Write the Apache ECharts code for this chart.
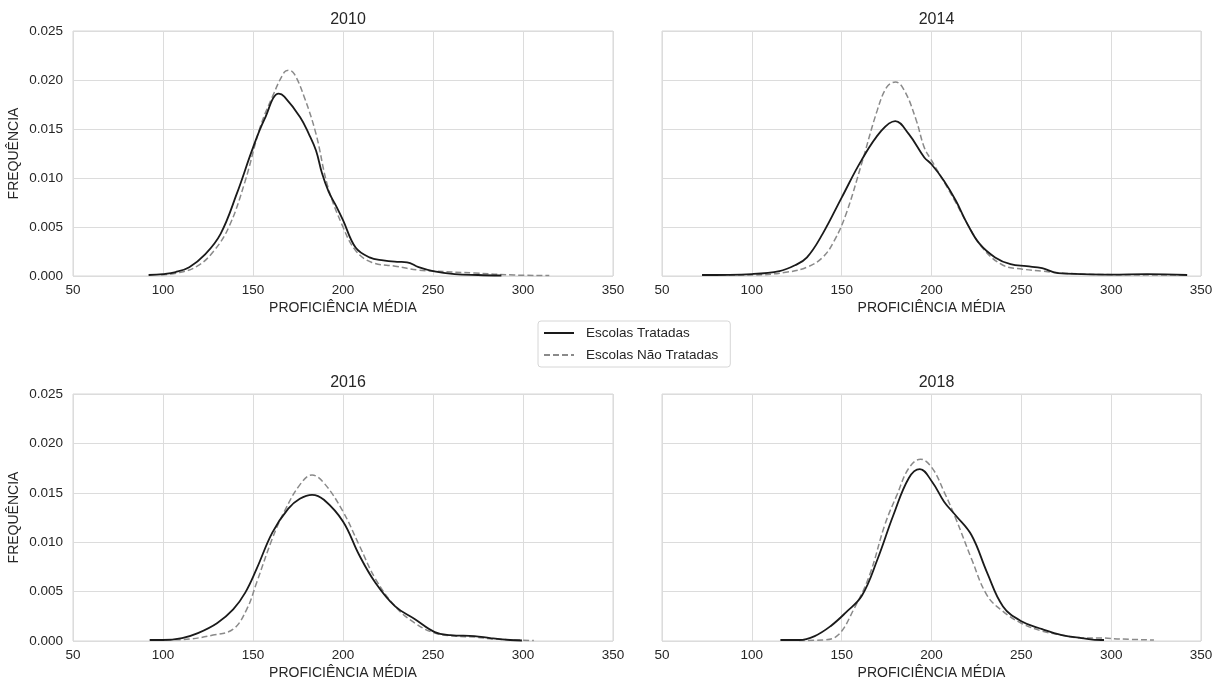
<!DOCTYPE html>
<html>
<head>
<meta charset="utf-8">
<script src="https://cdn.jsdelivr.net/npm/echarts@6/dist/echarts.min.js"></script>
<style>
  html, body { margin: 0; padding: 0; background: #fff; }
  #chart { width: 1224px; height: 686px; }
</style>
</head>
<body>
<div id="chart"></div>
<script>
// panel titles
const years = ['2010', '2014', '2016', '2018'];
const xTicks = [50, 100, 150, 200, 250, 300, 350];
const yTicks = [0, 0.005, 0.01, 0.015, 0.02, 0.025];

// density curves: [proficiencia, frequencia]
const trat2010 = [[92, 0.0001], [100, 0.0002], [107, 0.0004], [114.6, 0.0009], [123.4, 0.0022], [132, 0.0043], [141, 0.0084], [150, 0.0131], [156.4, 0.0160], [164.3, 0.0186], [167.4, 0.0183], [176.2, 0.0162], [181, 0.0145], [185, 0.0128], [188.3, 0.0105], [192, 0.0086], [196, 0.0072], [200, 0.0057], [207, 0.0029], [214.7, 0.0019], [222.4, 0.0016], [230, 0.00145], [235.6, 0.0014], [242, 0.0009], [250, 0.0005], [262, 0.0002], [275, 0.0001], [288, 0.00005]];
const nao2010 = [[99, 0.0001], [108, 0.0003], [119, 0.0010], [128, 0.0025], [136.6, 0.0050], [145.5, 0.0096], [154, 0.0152], [160.8, 0.0183], [167.4, 0.0208], [170, 0.0210], [173, 0.0206], [178.4, 0.0183], [185, 0.0145], [191.6, 0.0091], [200, 0.0050], [207, 0.0026], [215.8, 0.0014], [229, 0.0010], [242, 0.0006], [251, 0.0005], [273, 0.0003], [295, 0.0001], [314.6, 0.00005]];

const trat2014 = [[72.3, 0.0001], [100, 0.0002], [115.4, 0.0005], [124, 0.0011], [130.7, 0.0019], [139.4, 0.0043], [150, 0.0080], [161, 0.0118], [172, 0.0148], [179.8, 0.0158], [187.3, 0.0145], [196, 0.0121], [200, 0.0114], [207, 0.0097], [213.5, 0.0077], [220, 0.0053], [226.7, 0.0033], [235.4, 0.0019], [244, 0.0012], [252.9, 0.0010], [261.6, 0.0008], [270.4, 0.0003], [283.4, 0.0002], [300, 0.00015], [320, 0.0002], [342.3, 0.0001]];
const nao2014 = [[72.3, 0.0001], [100, 0.0001], [119.8, 0.0004], [130.7, 0.0009], [139.4, 0.0019], [145.9, 0.0036], [152.4, 0.0063], [161, 0.0114], [169.8, 0.0169], [175.2, 0.0193], [180, 0.0198], [185, 0.0189], [191.5, 0.0159], [196, 0.0131], [200, 0.0118], [207, 0.0096], [213.5, 0.0075], [220, 0.0053], [228.7, 0.0028], [239.8, 0.0011], [250.7, 0.0007], [261.6, 0.0005], [272.5, 0.0003], [294.3, 0.00015], [342.3, 0.0001]];

const trat2016 = [[92.6, 0.0001], [100, 0.0001], [110.6, 0.0003], [119.4, 0.0008], [130, 0.0018], [139, 0.0032], [145.7, 0.0049], [152, 0.0073], [160.8, 0.0110], [169.6, 0.0134], [176, 0.0144], [182.8, 0.0148], [189.4, 0.0143], [200, 0.0121], [209, 0.0087], [218, 0.0059], [229, 0.0035], [240, 0.0022], [251, 0.0009], [259.7, 0.0006], [273, 0.0005], [281.8, 0.0003], [292.8, 0.0001], [299.4, 0.00005]];
const nao2016 = [[101.5, 0.0001], [114.6, 0.0002], [127.8, 0.0006], [139, 0.0012], [146.5, 0.0032], [152, 0.0059], [160.8, 0.0104], [167.4, 0.0131], [176, 0.0158], [182.8, 0.0168], [189.4, 0.0160], [200, 0.0131], [209, 0.0097], [218, 0.0063], [229, 0.0035], [240, 0.0018], [251, 0.0008], [262, 0.0005], [273, 0.0004], [284, 0.0002], [306, 0.00005]];

const trat2018 = [[115.9, 0.0001], [126.3, 0.0001], [135, 0.0005], [143.8, 0.0015], [152.4, 0.0029], [161.3, 0.0046], [170, 0.0083], [178.7, 0.0127], [187.4, 0.0165], [193.5, 0.0174], [200.4, 0.0161], [207, 0.0141], [213.5, 0.0127], [222.3, 0.0107], [231, 0.0069], [239.8, 0.0035], [250, 0.0020], [261.6, 0.0012], [272.5, 0.0006], [283.4, 0.0003], [294.3, 0.0001], [296, 0.0001]];
const nao2018 = [[126.3, 0.00005], [139.4, 0.0001], [148, 0.0006], [156.7, 0.0032], [165.4, 0.0066], [174.1, 0.0118], [180.8, 0.0148], [187.4, 0.0175], [193.9, 0.0184], [200.4, 0.0175], [207, 0.0151], [213.5, 0.0124], [222.3, 0.0083], [231, 0.0046], [239.8, 0.0030], [250, 0.0018], [261.6, 0.0010], [272.5, 0.0006], [283.4, 0.0003], [294.3, 0.0003], [305, 0.0002], [323.8, 0.0001]];

const tratadas = [trat2010, trat2014, trat2016, trat2018];
const naoTratadas = [nao2010, nao2014, nao2016, nao2018];

const font = '"Liberation Sans", Arial, sans-serif';
const textColor = '#262626';

const grids = [
    {left: 73, top: 31, width: 540, height: 245},
    {left: 662, top: 31, width: 539, height: 245},
    {left: 73, top: 394, width: 540, height: 247},
    {left: 662, top: 394, width: 539, height: 247}
];

let titles = [], xAxes = [], yAxes = [], series = [];

grids.forEach((g, i) => {
    g.show = true;
    g.borderColor = '#d6d6d6';
    g.borderWidth = 1;
    g.containLabel = false;

    titles.push({
        text: years[i],
        left: g.left + g.width / 2,
        top: g.top - 24,
        textAlign: 'center',
        textStyle: {fontFamily: font, fontSize: 16, fontWeight: 'normal', color: textColor}
    });

    xAxes.push({
        type: 'value',
        gridIndex: i,
        min: xTicks[0],
        max: xTicks[xTicks.length - 1],
        interval: 50,
        name: 'PROFICIÊNCIA MÉDIA',
        nameLocation: 'middle',
        nameGap: 25,
        nameTextStyle: {fontFamily: font, fontSize: 14, color: textColor},
        axisLine: {show: false},
        axisTick: {show: false},
        axisLabel: {fontFamily: font, fontSize: 13.5, color: textColor, margin: 7},
        splitLine: {show: true, lineStyle: {color: '#dcdcdc', width: 1}}
    });

    const left = i % 2 === 0;
    yAxes.push({
        type: 'value',
        gridIndex: i,
        min: yTicks[0],
        max: yTicks[yTicks.length - 1],
        interval: 0.005,
        name: left ? 'FREQUÊNCIA' : '',
        nameLocation: 'middle',
        nameRotate: 90,
        nameGap: 52,
        nameTextStyle: {fontFamily: font, fontSize: 14, color: textColor},
        axisLine: {show: false},
        axisTick: {show: false},
        axisLabel: {
            show: left,
            fontFamily: font, fontSize: 13.5, color: textColor, margin: 10,
            formatter: v => v.toFixed(3)
        },
        splitLine: {show: true, lineStyle: {color: '#dcdcdc', width: 1}}
    });

    series.push({
        name: 'Escolas Tratadas',
        type: 'line',
        xAxisIndex: i,
        yAxisIndex: i,
        data: tratadas[i],
        smooth: 0.4,
        showSymbol: false,
        symbol: 'none',
        lineStyle: {color: '#1a1a1a', width: 1.8},
        itemStyle: {color: '#1a1a1a'},
        z: 3
    });
    series.push({
        name: 'Escolas Não Tratadas',
        type: 'line',
        xAxisIndex: i,
        yAxisIndex: i,
        data: naoTratadas[i],
        smooth: 0.4,
        showSymbol: false,
        symbol: 'none',
        lineStyle: {color: '#8a8a8a', width: 1.5, type: [6, 3]},
        itemStyle: {color: '#8a8a8a'},
        z: 2
    });
});

const options = {
    animation: false,
    backgroundColor: '#ffffff',
    title: titles,
    legend: {
        data: ['Escolas Tratadas', 'Escolas Não Tratadas'],
        orient: 'vertical',
        left: 538,
        top: 321,
        itemWidth: 30,
        itemHeight: 12,
        itemGap: 8,
        padding: [5, 12, 5, 5],
        borderColor: '#d6d6d6',
        borderWidth: 1,
        borderRadius: 3,
        itemStyle: {opacity: 0},
        textStyle: {fontFamily: font, fontSize: 13.5, color: textColor, padding: [0, 0, 0, 7]}
    },
    grid: grids,
    xAxis: xAxes,
    yAxis: yAxes,
    series: series
};

const chart = echarts.init(document.getElementById('chart'));
chart.setOption(options);
</script>
</body>
</html>
